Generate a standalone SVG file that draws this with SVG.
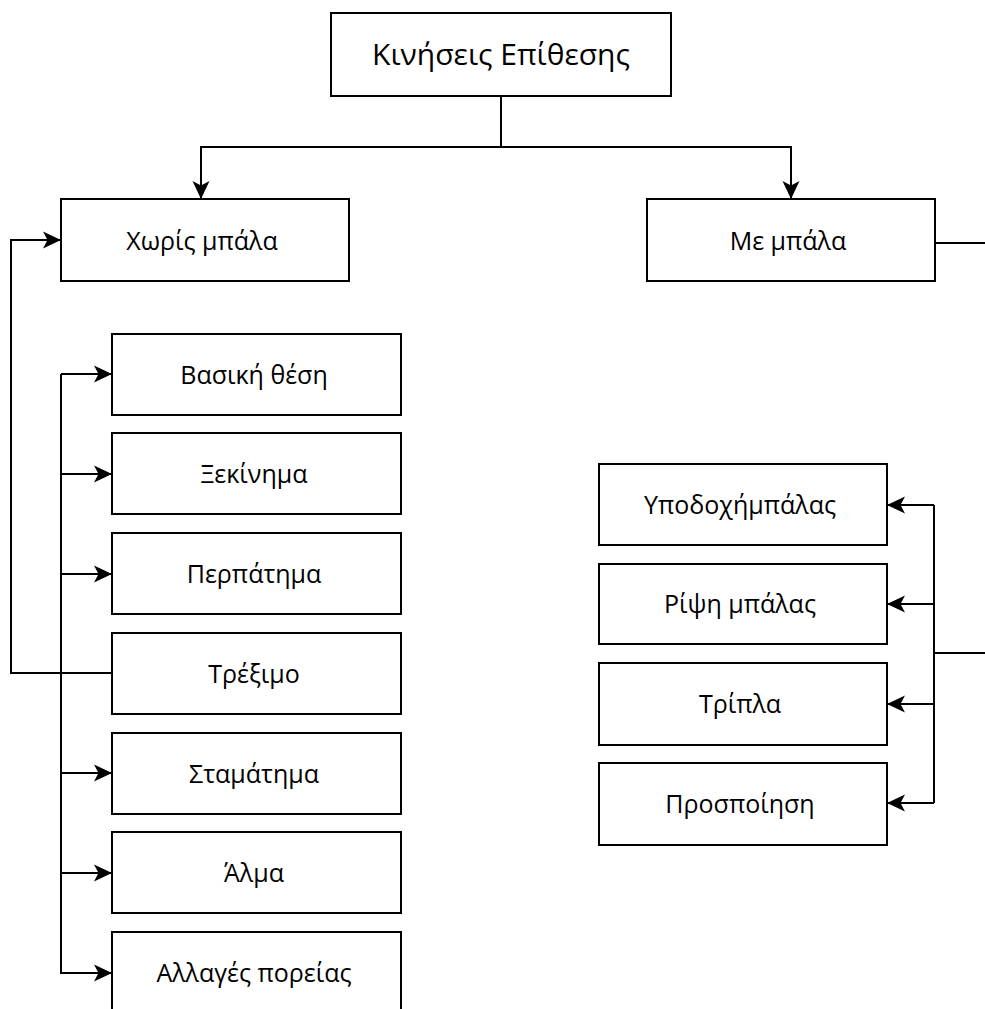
<svg xmlns="http://www.w3.org/2000/svg" width="985" height="1009" viewBox="0 0 985 1009">
<style>
.box{fill:#fff;stroke:#000;stroke-width:2}
.lbl{font-family:"Open Sans","Noto Sans",sans-serif;font-size:25px;fill:#000;text-anchor:middle}
.ttl{font-size:30px}
.edge{fill:none;stroke:#000;stroke-width:2}
</style>
<defs>
<marker id="arr" viewBox="0 0 18 18" refX="18" refY="9" markerWidth="18" markerHeight="18" markerUnits="userSpaceOnUse" orient="auto">
<path d="M0,0.5 L18,9 L0,17.5 L4.5,9 Z" fill="#000"/>
</marker>
</defs>
<rect width="985" height="1009" fill="#fff"/>
<g id="connectors">
<path class="edge" d="M501,96 V147 H201 V199" marker-end="url(#arr)"/>
<path class="edge" d="M501,147 H791 V199" marker-end="url(#arr)"/>
<path class="edge" d="M112,673 H11 V240 H61" marker-end="url(#arr)"/>
<path class="edge" d="M61,974 V374"/>
<path class="edge" d="M61,374 H112" marker-end="url(#arr)"/>
<path class="edge" d="M61,474 H112" marker-end="url(#arr)"/>
<path class="edge" d="M61,574 H112" marker-end="url(#arr)"/>
<path class="edge" d="M61,773 H112" marker-end="url(#arr)"/>
<path class="edge" d="M61,873 H112" marker-end="url(#arr)"/>
<path class="edge" d="M61,973 H112" marker-end="url(#arr)"/>
<path class="edge" d="M935,243 H985"/>
<path class="edge" d="M985,653 H934"/>
<path class="edge" d="M934,505 V803"/>
<path class="edge" d="M934,505 H887" marker-end="url(#arr)"/>
<path class="edge" d="M934,604 H887" marker-end="url(#arr)"/>
<path class="edge" d="M934,704 H887" marker-end="url(#arr)"/>
<path class="edge" d="M934,803 H887" marker-end="url(#arr)"/>
</g>
<g id="n-root"><rect class="box" x="331" y="13" width="340" height="83"/><text class="lbl ttl" x="501" y="65">Κινήσεις Επίθεσης</text></g>
<g id="n-without"><rect class="box" x="61" y="199" width="288" height="82"/><text class="lbl" x="202" y="250">Χωρίς μπάλα</text></g>
<g id="n-with"><rect class="box" x="647" y="199" width="288" height="82"/><text class="lbl" x="788" y="250">Με μπάλα</text></g>
<g id="n-basic"><rect class="box" x="112" y="334" width="289" height="81"/><text class="lbl" x="254" y="384">Βασική θέση</text></g>
<g id="n-start"><rect class="box" x="112" y="433" width="289" height="81"/><text class="lbl" x="254" y="483">Ξεκίνημα</text></g>
<g id="n-walk"><rect class="box" x="112" y="533" width="289" height="81"/><text class="lbl" x="254" y="583">Περπάτημα</text></g>
<g id="n-run"><rect class="box" x="112" y="633" width="289" height="81"/><text class="lbl" x="254" y="683">Τρέξιμο</text></g>
<g id="n-stop"><rect class="box" x="112" y="733" width="289" height="81"/><text class="lbl" x="254" y="783">Σταμάτημα</text></g>
<g id="n-jump"><rect class="box" x="112" y="832" width="289" height="81"/><text class="lbl" x="254" y="882">Άλμα</text></g>
<g id="n-change"><rect class="box" x="112" y="932" width="289" height="81"/><text class="lbl" x="254" y="982">Αλλαγές πορείας</text></g>
<g id="n-receive"><rect class="box" x="599" y="464" width="288" height="81"/><text class="lbl" x="740" y="514">Υποδοχήμπάλας</text></g>
<g id="n-throw"><rect class="box" x="599" y="564" width="288" height="80"/><text class="lbl" x="740" y="613">Ρίψη μπάλας</text></g>
<g id="n-dribble"><rect class="box" x="599" y="663" width="288" height="82"/><text class="lbl" x="740" y="713">Τρίπλα</text></g>
<g id="n-feint"><rect class="box" x="599" y="763" width="288" height="82"/><text class="lbl" x="740" y="813">Προσποίηση</text></g>
</svg>
